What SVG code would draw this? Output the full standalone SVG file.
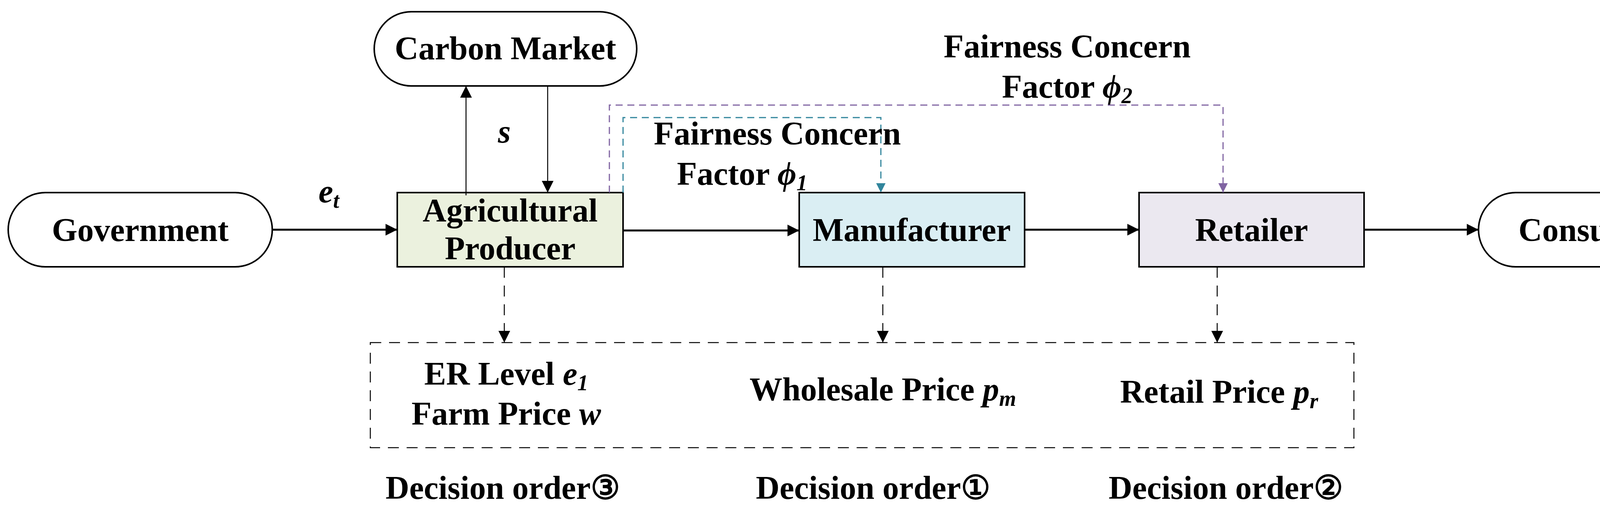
<svg xmlns="http://www.w3.org/2000/svg" width="4378" height="1303" viewBox="0 0 4378 1303">
<style>
text{font-family:"Liberation Serif","Times New Roman",serif;font-weight:bold;font-size:84px;fill:#000;text-anchor:middle}
.n{stroke:#000;stroke-width:4}
.c{stroke:#000;stroke-width:5;fill:none}
.t{stroke:#000;stroke-width:2.5;fill:none}
.d{stroke:#000;stroke-width:2.5;fill:none;stroke-dasharray:28 20}
.i{font-style:italic}
</style>
<defs>
<marker id="ab" viewBox="0 0 10 10" refX="10" refY="5" markerWidth="36" markerHeight="30" markerUnits="userSpaceOnUse" orient="auto"><path d="M0,0L10,5L0,10z" fill="#000"/></marker>
<marker id="ap" viewBox="0 0 10 10" refX="10" refY="5" markerWidth="36" markerHeight="24" markerUnits="userSpaceOnUse" orient="auto"><path d="M0,0L10,5L0,10z" fill="#8064A2"/></marker>
<marker id="at" viewBox="0 0 10 10" refX="10" refY="5" markerWidth="36" markerHeight="24" markerUnits="userSpaceOnUse" orient="auto"><path d="M0,0L10,5L0,10z" fill="#31859C"/></marker>
</defs>
<g id="government"><rect class="n" x="21" y="493" width="676" height="190" rx="95" fill="#fff"/><text x="359" y="617">Government</text></g>
<g id="carbon-market"><rect class="n" x="958" y="30" width="672" height="190" rx="95" fill="#fff"/><text x="1294" y="152">Carbon Market</text></g>
<g id="agricultural-producer"><rect class="n" x="1017" y="493" width="578" height="190" fill="#EBF1DE"/><text x="1306" y="567">Agricultural</text><text x="1306" y="664">Producer</text></g>
<g id="manufacturer"><rect class="n" x="2046" y="493" width="577" height="190" fill="#DAEEF3"/><text x="2334" y="617">Manufacturer</text></g>
<g id="retailer"><rect class="n" x="2916" y="493" width="576" height="190" fill="#EBE8F0"/><text x="3204" y="617">Retailer</text></g>
<g id="consumer"><rect class="n" x="3785" y="493" width="578" height="190" rx="95" fill="#fff"/><text x="4074" y="617">Consumer</text></g>
<g id="decisions"><rect class="d" x="948" y="877" width="2518" height="269"/>
<text x="1296" y="985">ER Level <tspan class="i">e<tspan font-size="56" dy="14">1</tspan></tspan></text>
<text x="1296" y="1087">Farm Price <tspan class="i">w</tspan></text>
<text x="2260" y="1025">Wholesale Price <tspan class="i">p<tspan font-size="56" dy="14">m</tspan></tspan></text>
<text x="3121" y="1031">Retail Price <tspan class="i">p<tspan font-size="56" dy="14">r</tspan></tspan></text>
<text x="1287" y="1277">Decision order③</text>
<text x="2235" y="1277">Decision order①</text>
<text x="3138" y="1277">Decision order②</text></g>
<g id="connectors">
<path class="c" d="M697,588H1017" marker-end="url(#ab)"/>
<path class="c" d="M1595,590H2046" marker-end="url(#ab)"/>
<path class="c" d="M2623,588H2916" marker-end="url(#ab)"/>
<path class="c" d="M3492,588H3785" marker-end="url(#ab)"/>
<path class="t" d="M1193,500V220" marker-end="url(#ab)"/>
<path class="t" d="M1402,220V493" marker-end="url(#ab)"/>
<path class="d" d="M1291,683V877" marker-end="url(#ab)"/>
<path class="d" d="M2260,683V877" marker-end="url(#ab)"/>
<path class="d" d="M3116,683V877" marker-end="url(#ab)"/>
<path d="M1560,493V269H3131V493" fill="none" stroke="#8064A2" stroke-width="3" stroke-dasharray="18 12" marker-end="url(#ap)"/>
<path d="M1595,493V301H2255V493" fill="none" stroke="#31859C" stroke-width="3" stroke-dasharray="18 12" marker-end="url(#at)"/>
<text x="842" y="518" class="i">e<tspan font-size="56" dy="14">t</tspan></text>
<text x="1291" y="365" class="i">s</text>
<text x="1990" y="370">Fairness Concern</text>
<text x="1900" y="473">Factor <tspan class="i">ϕ<tspan font-size="56" dy="14">1</tspan></tspan></text>
<text x="2732" y="147">Fairness Concern</text>
<text x="2732" y="250">Factor <tspan class="i">ϕ<tspan font-size="56" dy="14">2</tspan></tspan></text>
</g>
</svg>
